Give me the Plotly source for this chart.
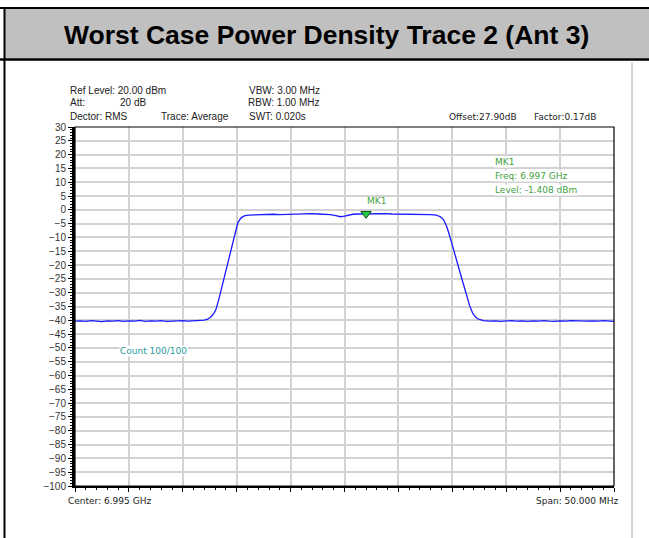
import plotly.graph_objects as go

# ---------------- data ----------------
title_text = "Worst Case Power Density Trace 2 (Ant 3)"

freq_ghz = [
    6.9700, 6.9705, 6.9710, 6.9715, 6.9720, 6.9725, 6.9730, 6.9735, 6.9740, 6.9745,
    6.9750, 6.9755, 6.9760, 6.9765, 6.9770, 6.9775, 6.9780, 6.9785, 6.9790, 6.9795,
    6.9800, 6.9805, 6.9810, 6.9815, 6.9820,
    6.9823, 6.9826, 6.9829, 6.9831, 6.9834, 6.9837, 6.9840, 6.9842, 6.9845, 6.9848,
    6.9851, 6.9854, 6.9857, 6.9861, 6.9866, 6.9872, 6.9878, 6.9884, 6.9890, 6.9896,
    6.9902, 6.9908, 6.9914, 6.9920, 6.9926, 6.9932, 6.9937, 6.9942, 6.9946, 6.9950,
    6.9954, 6.9958, 6.9963, 6.9970, 6.9976, 6.9982, 6.9988, 6.9994, 7.0000, 7.0006,
    7.0012, 7.0018, 7.0024, 7.0030, 7.0035, 7.0039, 7.0042, 7.0045, 7.0048, 7.0051,
    7.0054, 7.0057, 7.0060, 7.0063, 7.0066, 7.0069, 7.0072, 7.0075, 7.0079, 7.0085,
    7.0090, 7.0095, 7.0100, 7.0105, 7.0110, 7.0115, 7.0120, 7.0125, 7.0130, 7.0135,
    7.0140, 7.0145, 7.0150, 7.0155, 7.0160, 7.0165, 7.0170, 7.0175, 7.0180, 7.0185,
    7.0190, 7.0195, 7.0200,
]
level_dbm = [
    -40.3, -40.2, -40.4, -40.1, -40.3, -40.5, -40.2, -40.3, -40.1, -40.4,
    -40.2, -40.3, -40.0, -40.4, -40.2, -40.3, -40.1, -40.4, -40.3, -40.2,
    -40.1, -40.3, -40.2, -40.0, -39.9,
    -39.6, -38.8, -37.4, -35.8, -31.5, -26.6, -21.9, -18.9, -13.4, -8.6,
    -4.7, -2.9, -2.2, -1.9, -1.8, -1.7, -1.8, -1.6, -1.7, -1.6,
    -1.5, -1.6, -1.5, -1.4, -1.5, -1.5, -1.7, -2.1, -2.5, -2.3,
    -1.9, -1.6, -1.5, -1.41, -1.4, -1.5, -1.4, -1.5, -1.5, -1.6,
    -1.5, -1.6, -1.6, -1.7, -1.9, -2.5, -3.6, -6.2, -10.0, -14.4,
    -18.6, -22.4, -26.5, -30.9, -34.6, -37.5, -39.0, -39.7, -40.1, -40.3,
    -40.2, -40.4, -40.3, -40.1, -40.3, -40.2, -40.4, -40.2, -40.3, -40.1,
    -40.3, -40.4, -40.2, -40.3, -40.1, -40.2, -40.4, -40.3, -40.2, -40.3,
    -40.1, -40.3, -40.4,
]

marker_freq = [6.997]
marker_level = [-1.408]
marker_name = "MK1"

x_range = [6.970, 7.020]
y_range = [-100, 30]
y_tickvals = list(range(30, -101, -5))

header_left = [("Ref Level: 20.00 dBm", 68, 90), ("Att:", 68, 103), ("20 dB", 118, 103),
               ("Dector: RMS", 68, 117), ("Trace: Average", 159, 117)]
header_mid = [("VBW: 3.00 MHz", 247, 90), ("RBW: 1.00 MHz", 246, 103), ("SWT: 0.020s", 247, 117)]
header_right = [("Offset:27.90dB", 447, 117), ("Factor:0.17dB", 532, 117)]
marker_box = ["MK1", "Freq: 6.997 GHz", "Level: -1.408 dBm"]
center_text = "Center: 6.995 GHz"
span_text = "Span: 50.000 MHz"
count_text = "Count 100/100"

# ---------------- geometry ----------------
W, H = 649, 538
L, R, T, B = 75, 614, 127, 486


def px(x):
    return (x - L) / (R - L)


def py(y):
    return (B - y) / (B - T)


GREEN = "#3f9f3f"
TEAL = "#2a9a9a"
SANS = "Liberation Sans, Arial, sans-serif"
TAHOMA = "DejaVu Sans, Verdana, sans-serif"

fig = go.Figure()
fig.add_trace(go.Scatter(x=freq_ghz, y=level_dbm, mode="lines",
                         line=dict(color="#1a1aff", width=1.3), hoverinfo="skip",
                         showlegend=False))
fig.add_trace(go.Scatter(x=marker_freq, y=marker_level, mode="markers",
                         marker=dict(symbol="triangle-down", size=9, color="#22cc44",
                                     line=dict(color="#145214", width=1)),
                         showlegend=False, hoverinfo="skip"))

shapes = [
    # title band
    dict(type="rect", xref="paper", yref="paper", x0=px(5), x1=px(649), y0=py(58.5), y1=py(9),
         fillcolor="#c0c0c0", line=dict(width=0), layer="below"),
    dict(type="line", xref="paper", yref="paper", x0=px(0), x1=px(649), y0=py(8), y1=py(8),
         line=dict(color="black", width=2)),
    dict(type="line", xref="paper", yref="paper", x0=px(0), x1=px(649), y0=py(59.5), y1=py(59.5),
         line=dict(color="black", width=2.5)),
    dict(type="line", xref="paper", yref="paper", x0=px(4.5), x1=px(4.5), y0=py(7), y1=py(538),
         line=dict(color="black", width=2)),
    dict(type="line", xref="paper", yref="paper", x0=px(632), x1=px(632), y0=py(62.5), y1=py(538),
         line=dict(color="#a8a8a8", width=1)),
    # plot border
    dict(type="rect", xref="paper", yref="paper", x0=0, x1=1, y0=0, y1=1,
         line=dict(color="black", width=1.2)),
]

ann = []
ann.append(dict(text="<b>" + title_text + "</b>", x=px(326), y=py(35), xref="paper", yref="paper",
                showarrow=False, xanchor="center", yanchor="middle",
                font=dict(family=SANS, size=26.5, color="black")))
for t, x, y in header_left + header_mid:
    ann.append(dict(text=t, x=px(x), y=py(y), xref="paper", yref="paper", showarrow=False,
                    xanchor="left", yanchor="middle", font=dict(family=SANS, size=10, color="#222")))
for t, x, y in header_right:
    ann.append(dict(text=t, x=px(x), y=py(y), xref="paper", yref="paper", showarrow=False,
                    xanchor="left", yanchor="middle", font=dict(family=TAHOMA, size=9, color="#222")))
ann.append(dict(text=center_text, x=px(66), y=py(501), xref="paper", yref="paper", showarrow=False,
                xanchor="left", yanchor="middle", font=dict(family=TAHOMA, size=9, color="#222")))
ann.append(dict(text=span_text, x=px(620), y=py(501), xref="paper", yref="paper", showarrow=False,
                xanchor="right", yanchor="middle", font=dict(family=TAHOMA, size=9, color="#222")))
ann.append(dict(text=count_text, x=px(119), y=py(351), xref="paper", yref="paper", showarrow=False,
                xanchor="left", yanchor="middle", bgcolor="white", borderpad=0,
                font=dict(family=TAHOMA, size=9, color=TEAL)))
for i, t in enumerate(marker_box):
    ann.append(dict(text=t, x=px(494), y=py(162 + 14 * i), xref="paper", yref="paper",
                    showarrow=False, xanchor="left", yanchor="middle", bgcolor="white", borderpad=0,
                    font=dict(family=TAHOMA, size=9, color=GREEN)))
ann.append(dict(text=marker_name, x=marker_freq[0], y=marker_level[0], xref="x", yref="y",
                showarrow=False, xanchor="left", yanchor="middle", xshift=-1, yshift=13,
                font=dict(family=TAHOMA, size=9, color=GREEN)))

fig.update_layout(
    width=W, height=H,
    margin=dict(l=L, r=W - R, t=T, b=H - B, pad=0),
    paper_bgcolor="white", plot_bgcolor="white",
    shapes=shapes, annotations=ann, showlegend=False,
    xaxis=dict(range=x_range, dtick=0.005, tick0=6.970, showticklabels=False,
               showgrid=True, gridcolor="#d2d2d2", gridwidth=1.5, zeroline=False,
               showline=True, linecolor="black", linewidth=2,
               ticks="outside", ticklen=4, tickcolor="black", tickwidth=1,
               minor=dict(dtick=0.001, ticks="outside", ticklen=2, tickcolor="black", showgrid=False)),
    yaxis=dict(range=y_range, tickvals=y_tickvals, showgrid=True, gridcolor="#d2d2d2", gridwidth=1.5,
               zeroline=False, showline=True, linecolor="black", linewidth=3,
               ticks="outside", ticklen=4, tickcolor="black", tickwidth=1,
               minor=dict(dtick=1, ticks="outside", ticklen=2, tickcolor="black", showgrid=False),
               tickfont=dict(family=SANS, size=10, color="#333")),
)

fig.write_html("out.html", config={"displayModeBar": False},
               post_script="document.body.style.margin='0';document.body.style.overflow='hidden';")
